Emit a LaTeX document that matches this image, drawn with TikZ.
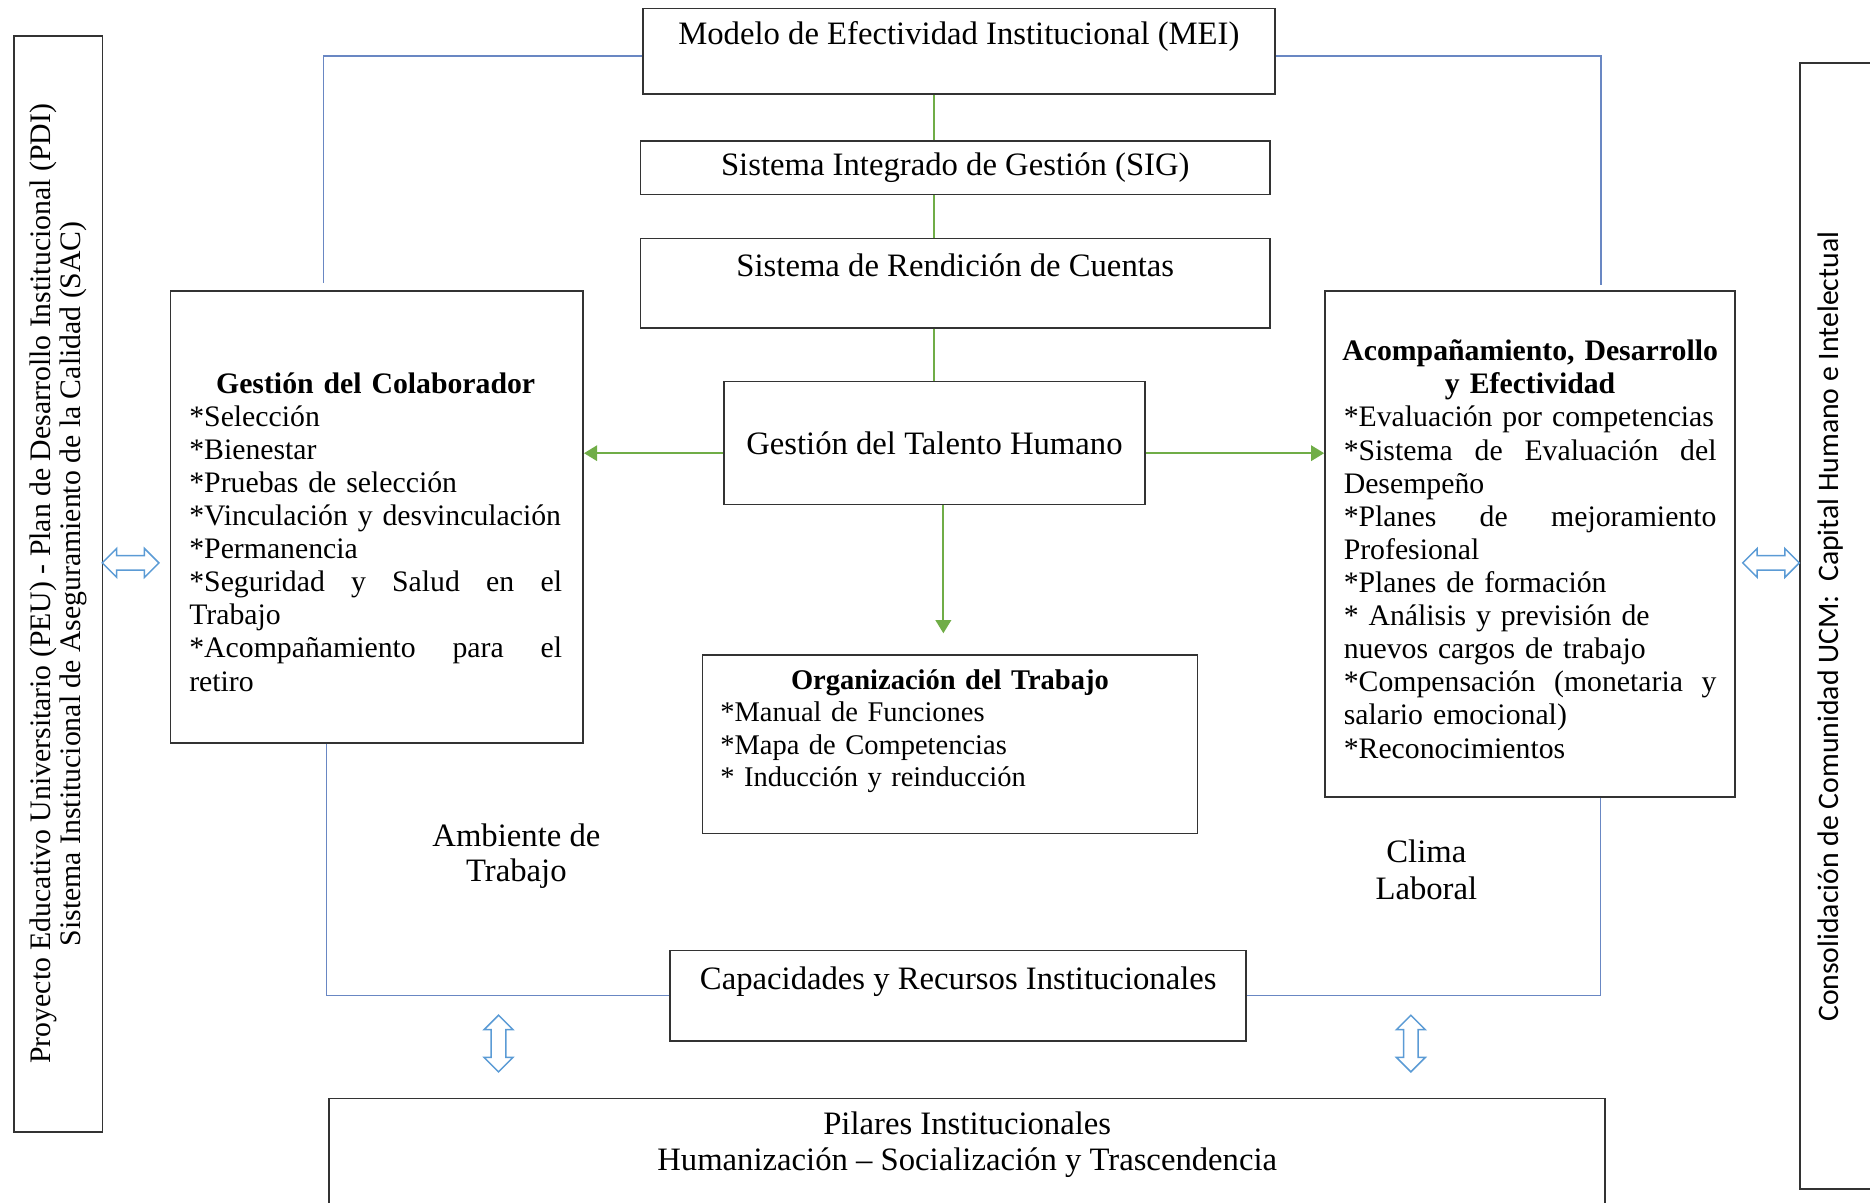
\documentclass[tikz,border=0pt]{standalone}
\usepackage{fontspec}
\setmainfont{Liberation Serif}
\newfontfamily\calibrifont{Carlito}
\usetikzlibrary{arrows.meta,positioning,shapes.arrows}
\definecolor{flowgreen}{RGB}{112,173,71}
\definecolor{linkblue}{RGB}{105,135,195}
\definecolor{arrowblue}{RGB}{91,155,213}
\newcommand{\Jline}[1]{{\spaceskip=0pt\xspaceskip=0pt\makebox[\linewidth][s]{#1}}}
\newcommand{\Cline}[1]{\makebox[\linewidth][c]{#1}}

\begin{document}
\begin{tikzpicture}[
    box/.style={draw=black!80, line width=0.8pt, align=center, inner sep=0pt, font=\fontsize{15.6}{17}\selectfont},
    listtxt/.style={text width=6.25cm, align=left, inner sep=0pt, font=\fontsize{14.2}{15.8}\selectfont},
    side/.style={draw=black!80, line width=0.8pt, rotate=90, inner sep=0pt, minimum height=1.48cm},
    note/.style={align=center, inner sep=0pt, font=\fontsize{15.6}{17}\selectfont},
    flow/.style={draw=flowgreen, line width=0.9pt},
    flowarrow/.style={flow, -{Triangle[length=2.2mm,width=2.6mm]}},
    link/.style={draw=linkblue, line width=0.6pt},
    twoway/.style={double arrow, draw=arrowblue, line width=0.7pt, fill=white, inner sep=0.11cm,
        double arrow head extend=0.12cm, minimum height=0.95cm, minimum width=0.46cm}
]
\useasboundingbox (0,0) rectangle (31.36,-20.16);

% Marco izquierdo y derecho
\node[side, minimum width=18.38cm, align=center, font=\fontsize{14.2}{13.9}\selectfont] (pe) at (0.98,-9.79)
    {Proyecto Educativo Universitario (PEU) - Plan de Desarrollo Institucional (PDI)\\
     Sistema Institucional de Aseguramiento de la Calidad (SAC)};
\node[side, minimum width=18.88cm] (cc) at (30.92,-10.5) {};
\node[rotate=90, inner sep=0pt, font=\calibrifont\fontsize{14.2}{17}\selectfont] (cctxt) at (30.69,-10.51)
    {Consolidación de Comunidad UCM:\ \ Capital Humano e Intelectual};

% Columna central
\node[box, minimum width=10.6cm, minimum height=1.44cm] (mei) at (16.08,-0.86) {Modelo de Efectividad Institucional (MEI)\\ \mbox{}};
\node[box, minimum width=10.56cm, minimum height=0.9cm] (sig) at (16.02,-2.81) {Sistema Integrado de Gestión (SIG)};
\node[box, minimum width=10.56cm, minimum height=1.5cm] (src) at (16.02,-4.75) {Sistema de Rendición de Cuentas\\ \mbox{}};
\node[box, minimum width=7.06cm, minimum height=2.06cm] (gth) at (15.67,-7.43) {Gestión del Talento Humano};

% Organización del trabajo
\node[box, minimum width=8.3cm, minimum height=3.0cm] (org) at (15.93,-12.48) {};
\node[listtxt, text width=7.7cm, font=\fontsize{13.6}{15.5}\selectfont] (orgtxt) at (15.93,-12.26)
    {\Cline{\textbf{Organización del Trabajo}}\\
     {*}Manual de Funciones\\
     {*}Mapa de Competencias\\
     {*} Inducción y reinducción};

% Gestión del colaborador
\node[box, minimum width=6.92cm, minimum height=7.58cm] (gc) at (6.32,-8.67) {};
\node[listtxt] (gctxt) at (6.30,-8.92)
    {\Cline{\textbf{Gestión del Colaborador}}\\
     {*}Selección\\
     {*}Bienestar\\
     {*}Pruebas de selección\\
     {*}Vinculación y desvinculación\\
     {*}Permanencia\\
     \Jline{*Seguridad y Salud en el}\\
     Trabajo\\
     \Jline{*Acompañamiento para el}\\
     retiro};

% Acompañamiento
\node[box, minimum width=6.88cm, minimum height=8.48cm] (adc) at (25.66,-9.12) {};
\node[listtxt] (adctxt) at (25.66,-9.21)
    {\Cline{\textbf{Acompañamiento, Desarrollo}}\\
     \Cline{\textbf{y Efectividad}}\\
     {*}Evaluación por competencias\\
     \Jline{*Sistema de Evaluación del}\\
     Desempeño\\
     \Jline{*Planes de mejoramiento}\\
     Profesional\\
     {*}Planes de formación\\
     {*} Análisis y previsión de\\
     nuevos cargos de trabajo\\
     \Jline{*Compensación (monetaria y}\\
     salario emocional)\\
     {*}Reconocimientos};

% Base
\node[box, minimum width=9.66cm, minimum height=1.52cm] (cri) at (16.07,-16.70) {Capacidades y Recursos Institucionales\\ \mbox{}};
\node[box, minimum width=21.4cm, minimum height=2.58cm] (pil) at (16.22,-19.71) {};
\node[note] (piltxt) at (16.22,-19.2) {Pilares Institucionales\\ Humanización -- Socialización y Trascendencia};

% Etiquetas
\node[note] (amb) at (8.66,-14.36) {Ambiente de\\ Trabajo};
\node[note, font=\fontsize{15.6}{17.6}\selectfont] (clima) at (23.92,-14.59) {Clima\\ Laboral};

% Flechas dobles
\node[twoway] (peL) at (2.19,-9.44) {};
\node[twoway] (ccR) at (29.70,-9.44) {};
\node[twoway, rotate=90] (ambP) at (8.36,-17.5) {};
\node[twoway, rotate=90] (climaP) at (23.66,-17.5) {};

% Conectores verdes
\draw[flow] (mei.south -| gth.north) -- (sig.north -| gth.north);
\draw[flow] (sig.south -| gth.north) -- (src.north -| gth.north);
\draw[flow] (src.south -| gth.north) -- (gth.north);
\coordinate (gthL) at ([yshift=-1.7mm]gth.west);
\coordinate (gthR) at ([yshift=-1.7mm]gth.east);
\draw[flowarrow] (gthL) -- (gthL -| gc.east);
\draw[flowarrow] (gthR) -- (gthR -| adc.west);
\coordinate (orgtip) at (15.82,-10.62);
\draw[flowarrow] (gth.south -| orgtip) -- (orgtip);

% Conectores azules
\coordinate (gcTop) at (5.42,-4.74);
\coordinate (adcTop) at (26.85,-4.78);
\draw[link] ([yshift=-0.8mm]mei.west) -| (gcTop);
\draw[link] ([yshift=-0.8mm]mei.east) -| (adcTop);
\draw[link] ([xshift=-8.4mm]gc.south) |- (cri.west);
\draw[link] ([xshift=11.8mm]adc.south) |- (cri.east);

\end{tikzpicture}
\end{document}
